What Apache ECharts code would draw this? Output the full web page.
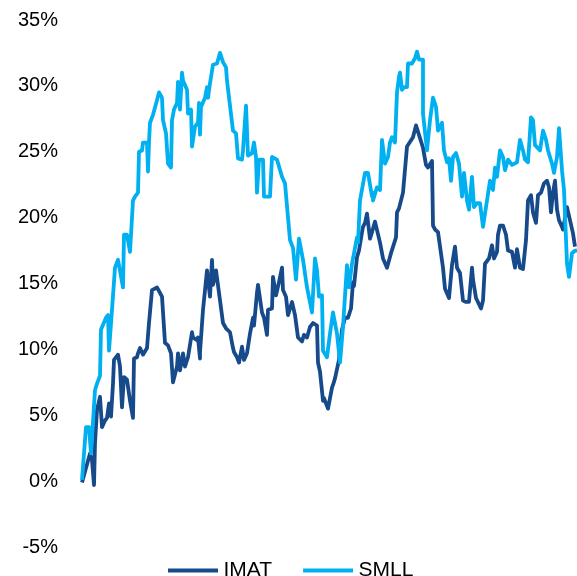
<!DOCTYPE html>
<html>
<head>
<meta charset="utf-8">
<script src="https://cdn.jsdelivr.net/npm/echarts@6/dist/echarts.min.js"></script>
<style>html,body{margin:0;padding:0;background:#fff}#c{width:577px;height:576px}</style>
</head>
<body>
<div id="c"></div>
<script>
// Time position (trading-day index, half-day units) and cumulative return (%)
const imatT = [0,2,8,10,12,13,15,18,20,23,25,27,29,31,32,36,38,40,42,45,48,51,52,55,56,58,61,65,67,70,75,80,83,86,89,91,95,96,98,101,103,106,110,111,115,116,118,118,121,125,128,130,131,134,136,141,144,148,151,152,155,157,160,162,165,168,171,172,175,176,180,182,185,186,190,191,194,197,200,201,204,206,210,213,216,220,222,225,228,231,235,236,238,241,242,246,250,251,253,257,260,263,266,269,271,272,275,277,280,281,283,285,288,290,293,298,301,305,307,309,311,314,315,317,321,323,325,327,331,334,336,341,344,346,350,351,353,356,361,363,365,367,370,373,375,378,381,384,387,390,391,394,396,399,401,403,405,407,410,412,415,416,418,421,424,426,430,433,435,438,441,444,446,449,451,454,456,459,462,465,467,469,471,473,475,477,480,481,485,487,491,493,495];
const imatV = [-0.1,-0.2,2.1,1.6,-0.3,2.9,5.4,6.4,4.1,4.6,4.8,5.9,4.9,7.4,9.2,9.6,8.7,5.6,7.9,7.7,6.1,4.8,9.3,9.4,9.7,10.1,9.6,10.1,12.0,14.5,14.7,14.0,10.5,10.3,9.7,7.5,8.7,9.7,8.4,9.7,8.7,9.4,11.3,10.9,10.7,10.9,9.3,9.8,13.0,16.0,14.0,16.8,14.9,16.0,15.9,12.0,11.6,11.3,10.1,9.8,9.4,9.0,10.2,9.2,9.7,11.2,12.4,11.8,14.3,14.9,12.8,12.4,11.1,13.0,13.1,15.5,14.1,15.1,16.2,14.5,14.0,12.6,13.6,12.6,10.9,10.6,11.1,10.9,11.7,12.0,11.8,9.0,8.3,6.1,6.3,5.5,7.1,7.3,7.8,9.2,11.5,12.4,12.4,13.1,15.1,14.8,17.0,17.5,18.9,19.3,19.6,20.3,18.4,18.9,19.7,18.1,16.9,16.2,16.2,17.3,17.4,18.5,20.4,20.7,21.9,21.9,25.4,25.5,26.1,27.0,27.0,25.3,24.0,23.8,24.3,19.4,19.1,18.9,16.2,14.6,14.5,13.9,16.4,17.8,16.2,15.8,13.7,13.6,13.6,16.2,15.3,13.9,13.9,13.1,13.7,16.5,16.4,16.9,17.9,16.9,17.4,18.7,19.4,19.4,18.7,17.5,17.4,16.2,17.6,16.2,16.1,18.3,21.3,21.7,20.4,19.6,21.7,21.9,22.6,22.8,22.3,20.4,21.9,22.8,20.6,19.8,19.3,19.1,20.8,20.8,18.8,17.8];
const smllT = [0,2,4,7,9,13,15,18,19,21,24,26,27,30,33,36,38,41,42,45,48,51,53,56,57,60,61,65,66,67,68,71,75,77,80,81,84,86,89,90,92,95,96,98,100,101,105,106,109,110,111,113,116,117,118,119,123,125,126,128,131,135,138,141,144,145,147,151,154,156,160,161,164,166,170,172,174,175,177,181,182,188,190,195,200,203,208,211,214,217,221,225,230,233,235,237,240,241,245,248,251,255,258,261,265,267,270,272,275,276,278,283,286,290,291,291,295,298,300,303,306,308,310,313,315,317,318,320,322,325,326,330,333,335,337,341,341,345,348,351,354,356,360,362,365,367,369,371,374,377,380,382,385,387,390,392,395,398,401,404,408,411,413,415,418,421,423,426,430,435,438,441,443,446,449,451,453,458,461,464,466,470,472,475,477,480,482,485,487,490,493,495];
const smllV = [0.1,0,4.1,4.1,2.1,6.9,7.4,8.0,11.5,11.6,12.4,12.6,9.9,13.0,16.2,16.8,16.8,14.7,18.7,18.7,17.4,21.3,21.6,21.9,25.0,25.1,25.7,25.7,23.5,25.7,27.2,27.8,28.9,29.5,29.1,27.4,26.4,24.1,23.8,27.4,28.2,28.7,30.3,28.2,31.0,30.4,29.7,27.9,28.2,25.4,25.5,26.9,27.2,28.7,26.3,28.4,29.1,29.9,29.1,30.2,31.6,31.7,32.5,31.8,31.4,30.4,30.3,26.6,26.4,24.5,24.4,25.1,28.5,24.7,24.9,25.7,24.6,21.9,24.4,24.4,21.6,21.6,24.6,24.4,23.1,22.6,18.3,17.7,15.3,18.4,16.8,14.7,12.8,16.9,16.0,14.0,14.1,9.9,9.4,11.2,12.8,11.2,9.0,11.7,16.4,14.7,16.5,16.4,18.5,18.1,21.3,23.4,23.4,21.6,21.9,21.3,22.3,22.1,25.9,24.1,24.6,25.7,26.1,25.7,29.5,30.7,31.0,29.7,29.9,29.9,31.7,31.7,32.1,32.6,32.0,32.0,27.9,25.1,27.4,29.1,28.4,26.6,27.2,25.1,24.2,24.5,22.8,24.6,24.9,24.1,21.6,23.4,21.3,20.6,23.1,20.8,21.1,21.1,19.3,20.8,22.8,22.1,23.8,23.1,25.1,24.6,23.6,24.4,24.0,24.2,25.9,25.1,24.4,24.2,27.6,27.4,25.5,25.1,26.6,25.9,25.1,24.1,23.4,24.6,26.8,23.6,22.1,16.5,15.5,17.3,17.5,17.5];
const seriesNames = ['IMAT', 'SMLL'];
const seriesColors = ['#174A8B', '#00B0F0'];
const yTicks = [-5, 0, 5, 10, 15, 20, 25, 30, 35];

function pairs(t, v) { return t.map((x, i) => [x, v[i]]); }

const chart = echarts.init(document.getElementById('c'), null, { renderer: 'canvas' });
chart.setOption({
  animation: false,
  backgroundColor: '#ffffff',
  grid: { left: 82, right: 0, top: 20, bottom: 29, containLabel: false },
  xAxis: {
    type: 'value', min: 0, max: 495, show: false
  },
  yAxis: {
    type: 'value',
    min: yTicks[0], max: yTicks[yTicks.length - 1], interval: 5,
    axisLine: { show: false }, axisTick: { show: false }, splitLine: { show: false },
    axisLabel: {
      formatter: '{value}%', color: '#000000', fontSize: 20,
      fontFamily: 'Liberation Sans, Arial, sans-serif', margin: 24
    }
  },
  legend: {
    data: seriesNames.map((n, i) => ({
      name: n,
      icon: 'path://M0,0 L100,0 L100,8 L0,8 Z',
      itemStyle: { color: seriesColors[i], borderWidth: 0 }
    })),
    left: 163, top: 555,
    itemWidth: 51, itemHeight: 4, itemGap: 31,
    textStyle: { fontSize: 21, color: '#000000', fontFamily: 'Liberation Sans, Arial, sans-serif' }
  },
  series: seriesNames.map((n, i) => ({
    name: n, type: 'line',
    data: i === 0 ? pairs(imatT, imatV) : pairs(smllT, smllV),
    showSymbol: false, symbol: 'none',
    lineStyle: { color: seriesColors[i], width: 3.8, join: 'round' },
    itemStyle: { color: seriesColors[i] }
  }))
});
</script>
</body>
</html>
